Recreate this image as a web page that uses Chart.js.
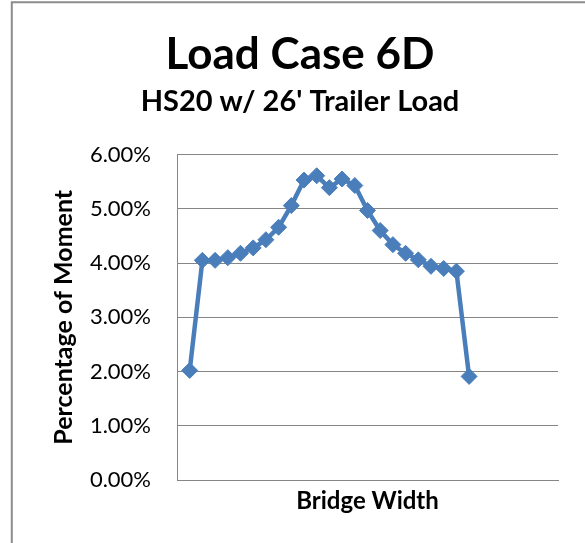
<!DOCTYPE html>
<html>
<head>
<meta charset="utf-8">
<script src="https://cdn.jsdelivr.net/npm/chart.js@4/dist/chart.umd.min.js"></script>
<style>
  html, body { margin: 0; padding: 0; background: #ffffff; }
  #wrap { width: 585px; height: 543px; position: relative; }
</style>
</head>
<body>
<div id="wrap"><canvas id="c" width="585" height="543"></canvas></div>
<script>
// ---- chart data ----
const titleText = 'Load Case 6D';
const subtitleText = "HS20 w/ 26' Trailer Load";
const xAxisTitle = 'Bridge Width';
const yAxisTitle = 'Percentage of Moment';

// position of each girder across the bridge width (index)
const girderPositions = [1, 2, 3, 4, 5, 6, 7, 8, 9, 10, 11, 12, 13, 14, 15, 16, 17, 18, 19, 20, 21, 22, 23];
// percentage of moment (%)
const momentPercent = [2.02, 4.05, 4.05, 4.10, 4.18, 4.28, 4.43, 4.66, 5.06, 5.53, 5.61, 5.39, 5.55, 5.43, 4.97, 4.60, 4.34, 4.18, 4.06, 3.94, 3.90, 3.85, 1.91];
// y tick values (%)
const yTickValues = [0, 1, 2, 3, 4, 5, 6];
// x range of the bridge width axis
const xRange = [0, 30];

const points = girderPositions.map((x, i) => ({ x: x, y: momentPercent[i] }));

const FONT = 'Lato';
const GRID = '#868686';
const BLUE = '#4A7EBB';

const framePlugin = {
  id: 'frame',
  beforeDraw(chart) {
    const ctx = chart.ctx;
    ctx.save();
    ctx.strokeStyle = '#8c8c8c';
    ctx.lineWidth = 2;
    ctx.beginPath();
    ctx.moveTo(11.8, 543);
    ctx.lineTo(11.8, 2.3);
    ctx.lineTo(585, 2.3);
    ctx.stroke();
    ctx.restore();
  }
};

new Chart(document.getElementById('c'), {
  type: 'line',
  data: {
    datasets: [{
      label: 'Moment',
      data: points,
      borderColor: BLUE,
      backgroundColor: BLUE,
      borderWidth: 4.5,
      tension: 0,
      pointStyle: 'rectRot',
      pointRadius: 8,
      pointBorderWidth: 1,
      pointBackgroundColor: BLUE,
      pointBorderColor: BLUE
    }]
  },
  options: {
    responsive: false,
    animation: false,
    devicePixelRatio: 1,
    layout: { padding: { left: 15, right: 0, top: 0, bottom: 0 } },
    plugins: {
      legend: { display: false },
      tooltip: { enabled: false },
      title: {
        display: true,
        text: titleText,
        color: '#000',
        font: { family: FONT, size: 44, weight: 'bold', lineHeight: 1.2 },
        padding: { top: 28, bottom: 0 }
      },
      subtitle: {
        display: true,
        text: subtitleText,
        color: '#000',
        font: { family: FONT, size: 29, weight: 'bold', lineHeight: 1.2 },
        padding: { top: 3, bottom: 36 }
      }
    },
    scales: {
      x: {
        type: 'linear',
        min: xRange[0],
        max: xRange[1],
        ticks: { display: false },
        grid: { display: false, drawTicks: false },
        border: { display: true, color: GRID, width: 1 },
        title: {
          display: true,
          text: xAxisTitle,
          color: '#000',
          font: { family: FONT, size: 24, weight: 'bold', lineHeight: 1.2 },
          padding: { top: 0, bottom: 27 }
        },
        afterFit(scale) { scale.height = 63; }
      },
      y: {
        min: yTickValues[0],
        max: yTickValues[yTickValues.length - 1],
        afterBuildTicks(scale) { scale.ticks = yTickValues.map(v => ({ value: v })); },
        ticks: {
          color: '#000',
          padding: 26,
          font: { family: FONT, size: 22 },
          callback: v => v.toFixed(2) + '%'
        },
        grid: { color: GRID, lineWidth: 1, drawTicks: false },
        border: { display: true, color: GRID, width: 1 },
        title: {
          display: true,
          text: yAxisTitle,
          color: '#000',
          font: { family: FONT, size: 25, weight: 'bold', lineHeight: 1.2 },
          padding: { top: 34, bottom: 0 }
        },
        afterFit(scale) { scale.width = 162; }
      },
      yRight: {
        position: 'right',
        display: true,
        min: yTickValues[0],
        max: yTickValues[yTickValues.length - 1],
        ticks: { display: false },
        grid: { display: false, drawTicks: false },
        border: { display: false },
        afterFit(scale) { scale.width = 27; }
      }
    }
  },
  plugins: [framePlugin]
});
</script>
</body>
</html>
